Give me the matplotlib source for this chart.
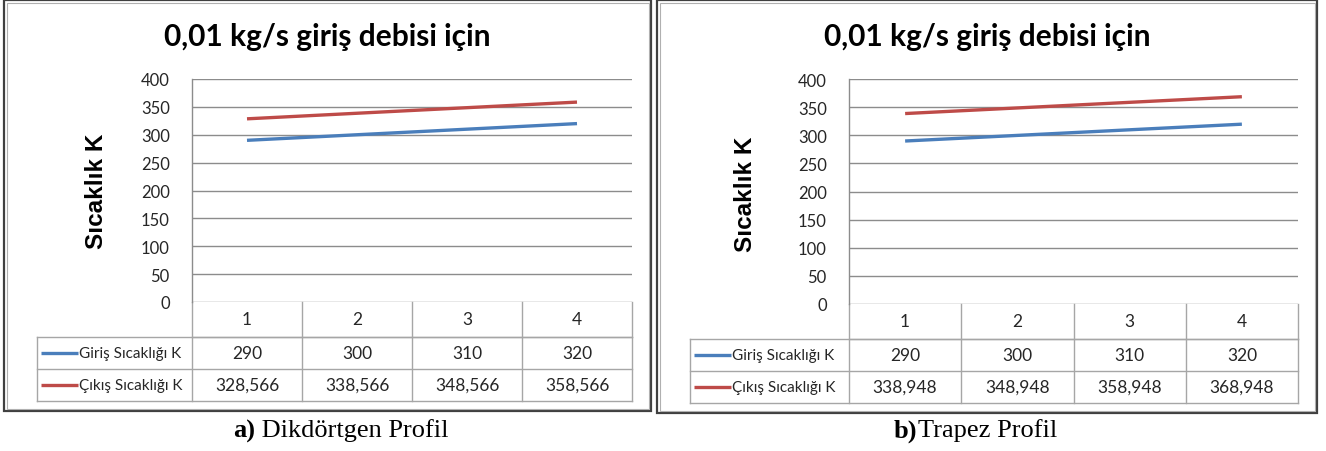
import matplotlib
matplotlib.use("Agg")
import matplotlib.pyplot as plt
from matplotlib.transforms import blended_transform_factory
from matplotlib.patches import Rectangle
from matplotlib.lines import Line2D

# ---- data ----
categories = [1, 2, 3, 4]
title_text = "0,01 kg/s giriş debisi için"
ylabel_text = "Sıcaklık K"
series_names = ["Giriş Sıcaklığı K", "Çıkış Sıcaklığı K"]
giris_a = [290, 300, 310, 320]
cikis_a = [328.566, 338.566, 348.566, 358.566]
giris_b = [290, 300, 310, 320]
cikis_b = [338.948, 348.948, 358.948, 368.948]
yticks = [0, 50, 100, 150, 200, 250, 300, 350, 400]
caption_a = ("a)", " Dikdörtgen Profil")
caption_b = ("b)", "Trapez Profil")

BLUE = "#4A7EBB"
RED = "#BE4B48"
GRID = "#8C8C8C"
TBL = "#A6A6A6"
SANS = ["Lato", "DejaVu Sans"]

W, H = 1326, 452
fig = plt.figure(figsize=(W / 100, H / 100), dpi=100)
fig.patch.set_facecolor("white")


def fmt(v):
    if float(v).is_integer():
        return str(int(v))
    return f"{v:.3f}".replace(".", ",")


def frame(x0, y0, x1, y1):
    # outer dark line + inner light line (pixel coords, y from top)
    fig.add_artist(Rectangle((x0 / W, (H - y1) / H), (x1 - x0) / W, (y1 - y0) / H,
                             transform=fig.transFigure, fill=False,
                             edgecolor="#404040", lw=1.6))
    d = 2.5
    fig.add_artist(Rectangle(((x0 + d) / W, (H - y1 + d) / H), (x1 - x0 - 2 * d) / W,
                             (y1 - y0 - 2 * d) / H, transform=fig.transFigure,
                             fill=False, edgecolor="#B0B0B0", lw=0.8))


def panel(box, tbl_left, rows, frame_box, title_x, ylab_x, ylab_y,
          giris, cikis, caption, cap_x):
    l, t, r, b = box
    frame(*frame_box)
    ax = fig.add_axes([l / W, (H - b) / H, (r - l) / W, (b - t) / H])
    ax.set_xlim(0.5, 4.5)
    ax.set_ylim(0, 400)
    for s in ["top", "right", "bottom"]:
        ax.spines[s].set_visible(False)
    ax.spines["left"].set_color(GRID)
    ax.spines["left"].set_linewidth(1.0)
    ax.set_yticks(yticks)
    ax.set_xticks([])
    ax.yaxis.grid(True, color=GRID, lw=1.0)
    ax.set_axisbelow(True)
    ax.tick_params(axis="y", length=0, pad=16, labelsize=12, labelcolor="#262626")
    for lab in ax.get_yticklabels():
        lab.set_fontfamily(SANS)

    ax.plot(categories, giris, color=BLUE, lw=2.4, solid_capstyle="butt", zorder=3)
    ax.plot(categories, cikis, color=RED, lw=2.4, solid_capstyle="butt", zorder=3)

    # ---- data table ----
    def yax(yp):
        return (b - yp) / (b - t)

    bt = blended_transform_factory(ax.transData, ax.transAxes)
    xl_ax = (tbl_left - l) / (r - l)
    y0, y1, y2, y3 = [yax(v) for v in rows]
    kw = dict(color=TBL, lw=1.0, clip_on=False)
    # horizontal lines
    ax.add_line(Line2D([0, 1], [y1, y1], transform=ax.transAxes, **kw))
    ax.add_line(Line2D([xl_ax, 1], [y1, y1], transform=ax.transAxes, **kw))
    ax.add_line(Line2D([xl_ax, 1], [y2, y2], transform=ax.transAxes, **kw))
    ax.add_line(Line2D([xl_ax, 1], [y3, y3], transform=ax.transAxes, **kw))
    # vertical lines
    ax.add_line(Line2D([0, 0], [y0, y3], transform=ax.transAxes, **kw))
    ax.add_line(Line2D([1, 1], [y0, y3], transform=ax.transAxes, **kw))
    ax.add_line(Line2D([xl_ax, xl_ax], [y1, y3], transform=ax.transAxes, **kw))
    for c in categories[:-1]:
        ax.add_line(Line2D([c + 0.5, c + 0.5], [y0, y3], transform=bt, **kw))
    tk = dict(ha="center", va="center", fontsize=12.5, family=SANS, color="#262626",
              transform=bt, clip_on=False)
    for i, c in enumerate(categories):
        ax.text(c, (y0 + y1) / 2, str(c), **tk)
        ax.text(c, (y1 + y2) / 2, fmt(giris[i]), **tk)
        ax.text(c, (y2 + y3) / 2, fmt(cikis[i]), **tk)
    # legend keys
    lx0 = xl_ax + 4 / (r - l)
    lx1 = xl_ax + 41 / (r - l)
    for yy, col, name in [((y1 + y2) / 2, BLUE, series_names[0]),
                          ((y2 + y3) / 2, RED, series_names[1])]:
        ax.add_line(Line2D([lx0, lx1], [yy, yy], transform=ax.transAxes, color=col,
                           lw=2.4, clip_on=False, solid_capstyle="butt"))
        ax.text(lx1 + 1 / (r - l), yy, name, transform=ax.transAxes, ha="left",
                va="center", fontsize=11, family=SANS, color="#262626", clip_on=False)

    # ---- titles ----
    fig.text(title_x / W, (H - 37) / H, title_text, ha="center", va="center",
             fontsize=21.5, fontweight="bold", family=SANS, color="black")
    fig.text(ylab_x / W, (H - ylab_y) / H, ylabel_text, ha="center", va="center",
             rotation=90, fontsize=17.5, fontweight="bold",
             family=["Liberation Sans", "DejaVu Sans"], color="black")
    # caption
    ta = fig.text(cap_x / W, (H - 431) / H, caption[0], ha="left", va="center",
                  fontsize=19, fontweight="bold",
                  family=["Liberation Serif", "DejaVu Serif"], color="black")
    fig.canvas.draw()
    bb = ta.get_window_extent()
    fig.text(bb.x1 / W, (H - 431) / H, caption[1], ha="left", va="center",
             fontsize=19, family=["Liberation Serif", "DejaVu Serif"], color="black")
    return ax


panel(box=(192, 80, 632, 303), tbl_left=36.6, rows=(303, 337.5, 370, 402),
      frame_box=(4, 1, 651, 412), title_x=327, ylab_x=96, ylab_y=191,
      giris=giris_a, cikis=cikis_a, caption=caption_a, cap_x=233)
panel(box=(849, 80.3, 1298, 304.7), tbl_left=690, rows=(304.7, 340, 371.6, 404),
      frame_box=(657, 1, 1317, 414), title_x=987, ylab_x=746, ylab_y=194,
      giris=giris_b, cikis=cikis_b, caption=caption_b, cap_x=894)

fig.savefig("out.png", dpi=100, facecolor="white")
